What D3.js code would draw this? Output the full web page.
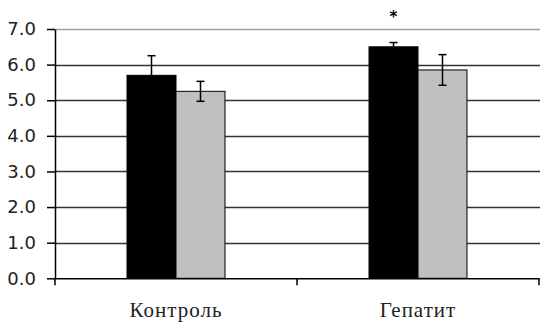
<!DOCTYPE html>
<html>
<head>
<meta charset="utf-8">
<script src="https://cdn.jsdelivr.net/npm/d3@7"></script>
<style>
  html, body { margin: 0; padding: 0; background: #fff; }
  svg { display: block; }
</style>
</head>
<body>
<div id="chart"></div>
<script>
// Données
const categories = ["Контроль", "Гепатит"];
const series = ["s1", "s2"];
const valuesBlack = [5.7, 6.5];
const errorsBlack = [0.55, 0.12];
const valuesGrey = [5.25, 5.85];
const errorsGrey = [0.28, 0.43];
const yTicks = [0, 1, 2, 3, 4, 5, 6, 7];
const marked = [false, true]; // astérisque au-dessus de la barre noire

const width = 540;
const height = 327;
const plotLeft = 55, plotRight = 539, plotTop = 29, plotBottom = 278.3;

const svg = d3.select("#chart")
    .append("svg")
    .attr("width", width)
    .attr("height", height);

// Échelles
const y = d3.scaleLinear().domain([0, 7]).range([plotBottom, plotTop]);
const x0 = d3.scaleBand().domain(categories).range([plotLeft, plotRight]).padding(0);
const x1 = d3.scaleBand().domain(series)
    .range([0, x0.bandwidth()])
    .paddingInner(0)
    .paddingOuter(1.47);

const colors = { s1: "#000000", s2: "#c0c0c0" };

// Lignes de grille
svg.append("g")
    .selectAll("line")
    .data(yTicks.filter(d => d > 0))
    .join("line")
    .attr("x1", plotLeft)
    .attr("x2", width)
    .attr("y1", d => Math.round(y(d)) + 0.5)
    .attr("y2", d => Math.round(y(d)) + 0.5)
    .attr("stroke", d => d === 7 ? "#a0a0a0" : "#333")
    .attr("stroke-width", 1.5);

// Données groupées
const rows = categories.map((c, i) => ({
    cat: c,
    bars: [
        { key: "s1", value: valuesBlack[i], err: errorsBlack[i] },
        { key: "s2", value: valuesGrey[i], err: errorsGrey[i] }
    ],
    mark: marked[i]
}));

const groups = svg.append("g")
    .selectAll("g")
    .data(rows)
    .join("g")
    .attr("transform", d => `translate(${x0(d.cat)},0)`);

groups.selectAll("rect")
    .data(d => d.bars)
    .join("rect")
    .attr("x", d => x1(d.key))
    .attr("y", d => y(d.value))
    .attr("width", x1.bandwidth())
    .attr("height", d => y(0) - y(d.value))
    .attr("fill", d => colors[d.key])
    .attr("stroke", "#000")
    .attr("stroke-width", 1);

// Barres d'erreur
const err = groups.selectAll("g.err")
    .data(d => d.bars)
    .join("g")
    .attr("class", "err")
    .attr("transform", d => `translate(${x1(d.key) + x1.bandwidth() / 2},0)`)
    .attr("stroke", "#000")
    .attr("stroke-width", 1.5);

err.append("line")
    .attr("y1", d => y(d.value + d.err))
    .attr("y2", d => y(d.value - d.err));
err.append("line")
    .attr("x1", -4).attr("x2", 4)
    .attr("y1", d => y(d.value + d.err))
    .attr("y2", d => y(d.value + d.err));
err.append("line")
    .attr("x1", -4).attr("x2", 4)
    .attr("y1", d => y(d.value - d.err))
    .attr("y2", d => y(d.value - d.err));

// Astérisque
groups.filter(d => d.mark)
    .append("text")
    .attr("x", x1("s1") + x1.bandwidth() / 2)
    .attr("y", 22)
    .attr("text-anchor", "middle")
    .attr("font-family", "DejaVu Sans, sans-serif")
    .attr("font-weight", "bold")
    .attr("font-size", "15px")
    .text("*");

// Axe Y
const yAxis = svg.append("g")
    .attr("transform", `translate(${plotLeft},0)`)
    .call(d3.axisLeft(y).tickValues(yTicks).tickFormat(d3.format(".1f")).tickSize(8).tickSizeOuter(0));
yAxis.select(".domain").attr("stroke", "#000").attr("stroke-width", 1.5);
yAxis.selectAll(".tick line").attr("stroke", "#000").attr("stroke-width", 1.5);
yAxis.selectAll(".tick text")
    .attr("x", -19)
    .attr("font-family", "DejaVu Sans, sans-serif")
    .attr("font-size", "18px")
    .attr("fill", "#222");

// Axe X
const xAxis = svg.append("g")
    .attr("transform", `translate(0,${plotBottom})`)
    .call(d3.axisBottom(x0).tickSize(0).tickSizeOuter(0));
xAxis.select(".domain").attr("stroke", "#000").attr("stroke-width", 1.5);
xAxis.selectAll(".tick text")
    .attr("y", 39)
    .attr("dy", 0)
    .attr("font-family", "Liberation Serif, serif")
    .attr("font-size", "21px")
    .attr("letter-spacing", "1px")
    .attr("fill", "#222");

// Graduations entre catégories
svg.append("g")
    .selectAll("line")
    .data([plotLeft, x0(categories[1]), plotRight])
    .join("line")
    .attr("x1", d => d).attr("x2", d => d)
    .attr("y1", plotBottom).attr("y2", plotBottom + 7)
    .attr("stroke", "#000")
    .attr("stroke-width", 1.5);
</script>
</body>
</html>
